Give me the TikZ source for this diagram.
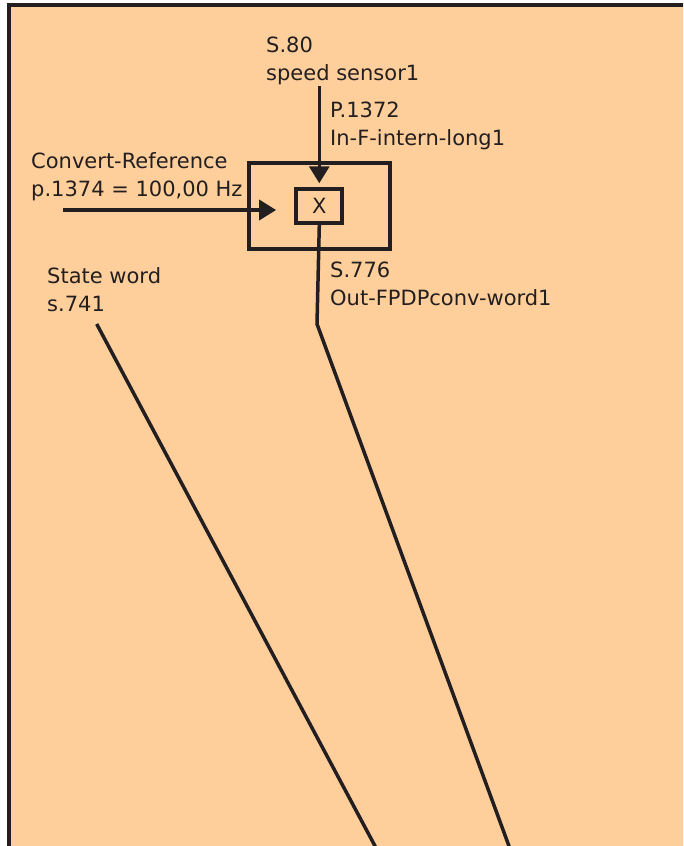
\documentclass[tikz,border=0pt]{standalone}
\usepackage{fontspec}
\setmainfont{DejaVu Sans}
\usepackage{tikz}
\usetikzlibrary{calc,positioning,arrows.meta}
\definecolor{panel}{RGB}{255,207,155}
\definecolor{ink}{RGB}{35,31,32}

\begin{document}
\begin{tikzpicture}[x=1pt, y=-1pt,
  lbl/.style={font=\fontsize{21}{28.5}\selectfont, inner sep=0pt, anchor=north west, align=left, text=ink},
  blk/.style={draw=ink, line width=4pt, inner sep=0pt, font=\fontsize{21}{28.5}\selectfont, text=ink},
  sig/.style={draw=ink, line width=3.5pt},
  arr/.style={sig, -{Triangle[length=17pt, width=20pt]}}]
\useasboundingbox (0,0) rectangle (683,846);
\fill[white] (0,0) rectangle (683,846);
\begin{scope}
\clip (0,0) rectangle (683,846);
\draw[ink, line width=4pt, fill=panel] (9,5) rectangle (720,880);
% converter block
\node[blk, minimum width=141.3pt, minimum height=86.3pt] (conv) at (319.3,205.8) {};
\node[blk, minimum width=45.7pt, minimum height=34.3pt] (mult) at (319.3,205.8) {X};
\node[lbl] (sensor) at (266,36.5) {S.80\\speed sensor1};
\node[lbl] (param) at (330,101.5) {P.1372\\In-F-intern-long1};
\node[lbl] (ref) at (31,152) {Convert-Reference\\p.1374 = 100,00 Hz};
\node[lbl] (state) at (47,267) {State word\\s.741};
\node[lbl] (out) at (330,261.5) {S.776\\Out-FPDPconv-word1};
\coordinate (sensorout) at (319.3,86);
\coordinate (refin) at (63,210);
\coordinate (outbend) at (317,324);
\coordinate (outend) at (517.8,870);
\coordinate (statetop) at (96.7,324);
\coordinate (stateend) at (387.8,870);
\draw[arr, shorten >=3.4pt] (sensorout) -- (mult);
\draw[arr, shorten >=18.3pt] (refin) -- (refin -| mult.west);
\draw[sig] (mult.south) -- (outbend) -- (outend);
\draw[sig] (statetop) -- (stateend);
\end{scope}
\end{tikzpicture}
\end{document}
